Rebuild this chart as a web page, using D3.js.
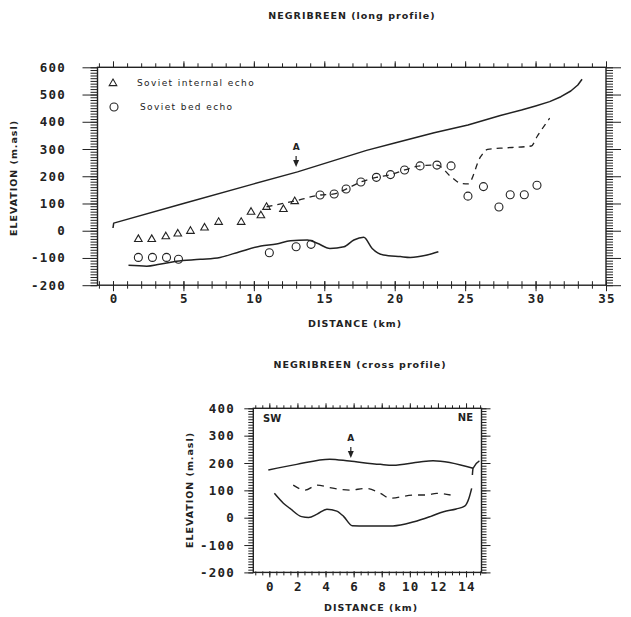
<!DOCTYPE html>
<html>
<head>
<meta charset="utf-8">
<script src="https://cdn.jsdelivr.net/npm/d3@7"></script>
<style>
  body { margin: 0; background: #fff; }
  svg { display: block; }
</style>
</head>
<body>
<div id="chart"></div>
<script>
// ---- long profile data (km, m a.s.l.) ----
var longSurface = [[0,10],[0.05,28],[5,100],[10,172],[13.1,216],[18,295],[20,322],[22.8,360],[25.2,388],
                   [27.5,423],[29,443],[30,458],[31,474],[31.8,492],[32.5,513],[33,535],[33.3,556]];
var longBed = [[1.1,-127],[2.4,-130],[3.3,-123],[4.5,-112],[6.2,-105],[7.6,-98],[9,-77],[10.5,-56],[11.6,-49],
               [12.6,-37],[13.8,-34],[14.5,-46],[15.4,-65],[16.4,-59],[17.1,-34],[17.8,-24],[18.4,-65],[19.2,-89],
               [20.4,-95],[21.1,-98],[22.3,-89],[23.1,-77]];
var longDashed = [[10.9,88],[12.9,109],[14.7,131],[15.7,135],[16.55,153],[17.6,179],[18.7,196],[19.7,206],
                  [20.7,223],[21.8,238],[23,241],[24,198],[24.7,174],[25.2,172],[26.1,272],[26.6,299],
                  [27.5,303],[29.7,311],[30.1,345],[31,413]];
var internalEcho = [[1.8,-30],[2.75,-30],[3.75,-20],[4.6,-10],[5.5,0],[6.5,12],[7.5,33],[9.1,33],[9.8,70],
                    [10.5,57],[10.9,88],[12.1,80],[12.9,109]];
var bedEcho = [[1.8,-98],[2.8,-98],[3.8,-98],[4.65,-105],[11.1,-81],[13,-59],[14.06,-50],[14.7,131],[15.7,135],
               [16.55,153],[17.6,179],[18.7,196],[19.7,206],[20.7,223],[21.8,238],[23,241],[24,238],[25.2,127],
               [26.3,162],[27.4,87],[28.2,132],[29.2,132],[30.1,167]];
var longXTicks = [0,5,10,15,20,25,30,35];
var longYTicks = [-200,-100,0,100,200,300,400,500,600];
var longArrow = [13, 234];   // km, tip elevation

// ---- cross profile data ----
var crossSurface = [[-0.07,174],[1.95,195],[4.3,214],[5.7,207],[7.9,195],[8.8,192],[10.7,204],[11.65,208],[14.5,181]];
var crossSurfaceEnd = [[14.45,156],[14.5,181],[14.95,208]];
var crossBed = [[0.36,89],[1,53],[1.47,34],[2.3,4],[2.8,1],[3.4,13],[4.1,31],[4.8,24],[5.3,4],[5.9,-29],
                [6.9,-30],[8.8,-30],[10.3,-15],[11.45,4],[12.4,22],[13.3,32],[13.9,42],[14.2,70],[14.4,107]];
var crossDashed = [[1.7,119],[2.55,101],[3.4,119],[4.3,110],[5.7,101],[6.9,107],[7.9,89],[8.6,71],[10.3,83],
                   [11.2,83],[11.9,89],[12.9,83]];
var crossXTicks = [0,2,4,6,8,10,12,14];
var crossYTicks = [-200,-100,0,100,200,300,400];
var crossArrow = [5.8, 218];

var ink = "#222";
var svg = d3.select("#chart").append("svg").attr("width", 631).attr("height", 617);

function tickAxis(g, axis, tr, len, crossUp) {
    var a = g.append("g")
        .attr("transform", tr)
        .attr("color", ink)
        .call(axis.tickSize(len).tickFormat(""));
    a.select(".domain").remove();
    a.selectAll("line").attr("stroke-width", 1);
    if (crossUp) a.selectAll("line").attr("y1", -crossUp);
}

function panel(p) {
    var g = svg.append("g");
    var x = d3.scaleLinear().domain(p.xDomain).range(p.xRange);
    var y = d3.scaleLinear().domain(p.yDomain).range(p.yRange);
    var x0 = p.xRange[0], x1 = p.xRange[1], y0 = p.yRange[0], y1 = p.yRange[1];

    var yMinor = d3.range(p.yDomain[0], p.yDomain[1] + 0.1, 10);
    var xMinor = d3.range(Math.ceil(p.xDomain[0] / p.xStep) * p.xStep, p.xDomain[1] + 0.01, p.xStep);

    // left / right ticks, outward
    tickAxis(g, d3.axisLeft(y).tickValues(yMinor), "translate(" + x0 + ",0)", p.yMinorLen);
    tickAxis(g, d3.axisLeft(y).tickValues(p.yTicks), "translate(" + x0 + ",0)", p.yMajorLen);
    tickAxis(g, d3.axisRight(y).tickValues(yMinor), "translate(" + x1 + ",0)", p.yMinorLen);
    tickAxis(g, d3.axisRight(y).tickValues(p.yTicks), "translate(" + x1 + ",0)", p.yMajorLen);
    // top ticks outward, bottom ticks crossing the line
    tickAxis(g, d3.axisTop(x).tickValues(xMinor), "translate(0," + y1 + ")", p.xTopMinor);
    tickAxis(g, d3.axisTop(x).tickValues(p.xTicks), "translate(0," + y1 + ")", p.xTopMajor);
    tickAxis(g, d3.axisBottom(x).tickValues(xMinor), "translate(0," + y0 + ")", p.xBotMinor, p.xBotUp);
    tickAxis(g, d3.axisBottom(x).tickValues(p.xTicks), "translate(0," + y0 + ")", p.xBotMajor, p.xBotUp);

    g.append("rect")
        .attr("x", x0).attr("y", y1)
        .attr("width", x1 - x0).attr("height", y0 - y1)
        .attr("fill", "none").attr("stroke", ink).attr("stroke-width", 1.4);

    // tick labels
    var lf = function(t) {
        return t.attr("font-family", "DejaVu Sans Mono").attr("font-weight", "bold")
            .attr("font-size", "12.5px").attr("letter-spacing", "1.2px").attr("fill", ink);
    };
    lf(g.selectAll(".ylab").data(p.yTicks).enter().append("text"))
        .attr("x", p.yLabX).attr("y", d => y(d) + 4.5)
        .attr("text-anchor", "end")
        .text(d => d);
    lf(g.selectAll(".xlab").data(p.xTicks).enter().append("text"))
        .attr("x", d => x(d) + 1).attr("y", p.xLabY)
        .attr("text-anchor", "middle")
        .text(d => d);

    // titles
    var tf = function(t) {
        return t.attr("font-family", "DejaVu Sans").attr("font-weight", "bold")
            .attr("font-size", "9.5px").attr("letter-spacing", "1px").attr("fill", ink)
            .attr("text-anchor", "middle");
    };
    tf(g.append("text")).attr("x", p.title[1]).attr("y", p.title[2]).text(p.title[0]);
    tf(g.append("text")).attr("x", p.xTitle[0]).attr("y", p.xTitle[1]).text("DISTANCE (km)");
    tf(g.append("text"))
        .attr("transform", "translate(" + p.yTitle[0] + "," + p.yTitle[1] + ") rotate(-90)")
        .text("ELEVATION (m.asl)");

    return { g: g, x: x, y: y };
}

function drawLine(P, data, dash, w, curve) {
    var line = d3.line().x(d => P.x(d[0])).y(d => P.y(d[1])).curve(curve || d3.curveMonotoneX);
    P.g.append("path")
        .datum(data)
        .attr("d", line)
        .attr("fill", "none")
        .attr("stroke", ink)
        .attr("stroke-width", w || 1.5)
        .attr("stroke-linejoin", "round")
        .attr("stroke-dasharray", dash || null);
}

function drawArrow(P, a) {
    var px = P.x(a[0]), py = P.y(a[1]);
    P.g.append("path")
        .attr("d", "M" + (px - 3) + "," + (py - 7) + "L" + (px + 3) + "," + (py - 7) + "L" + px + "," + py + "Z")
        .attr("fill", ink);
    P.g.append("line")
        .attr("x1", px).attr("x2", px).attr("y1", py - 11).attr("y2", py - 6)
        .attr("stroke", ink).attr("stroke-width", 1.2);
    P.g.append("text")
        .attr("x", px).attr("y", py - 17)
        .attr("text-anchor", "middle")
        .attr("font-family", "DejaVu Sans").attr("font-weight", "bold").attr("font-size", "9px")
        .attr("fill", ink)
        .text("A");
}

var tri = "M0,-4L3.8,2.6L-3.8,2.6Z";

// ---------------- long profile ----------------
var longP = panel({
    xDomain: [-1.1, 35], xRange: [97.5, 606],
    yDomain: [-200, 600], yRange: [285.2, 67.3],
    xTicks: longXTicks, yTicks: longYTicks, xStep: 1,
    yMinorLen: 7, yMajorLen: 15,
    xTopMinor: 4, xTopMajor: 6, xBotMinor: 3.5, xBotMajor: 6, xBotUp: 4,
    yLabX: 66, xLabY: 303,
    title: ["NEGRIBREEN (long profile)", 352, 19],
    xTitle: [355, 327], yTitle: [17, 178]
});

drawLine(longP, longSurface, null, 1.5, d3.curveLinear);
drawLine(longP, longBed);
drawLine(longP, longDashed, "6,5", 1.3);

longP.g.selectAll(".tri").data(internalEcho).enter().append("path")
    .attr("transform", d => "translate(" + longP.x(d[0]) + "," + longP.y(d[1]) + ")")
    .attr("d", tri)
    .attr("fill", "none").attr("stroke", ink).attr("stroke-width", 1.1);
longP.g.selectAll(".circ").data(bedEcho).enter().append("circle")
    .attr("cx", d => longP.x(d[0])).attr("cy", d => longP.y(d[1]))
    .attr("r", 4)
    .attr("fill", "none").attr("stroke", ink).attr("stroke-width", 1.1);

drawArrow(longP, longArrow);

// legend
var leg = longP.g.append("g");
leg.append("path").attr("transform", "translate(113,83)").attr("d", tri)
    .attr("fill", "none").attr("stroke", ink).attr("stroke-width", 1.1);
leg.append("circle").attr("cx", 114).attr("cy", 107).attr("r", 4)
    .attr("fill", "none").attr("stroke", ink).attr("stroke-width", 1.1);
leg.append("text").attr("x", 137).attr("y", 86)
    .attr("font-family", "DejaVu Sans").attr("font-size", "9px").attr("letter-spacing", "1.4px").attr("fill", ink)
    .text("Soviet internal echo");
leg.append("text").attr("x", 140).attr("y", 110)
    .attr("font-family", "DejaVu Sans").attr("font-size", "9px").attr("letter-spacing", "1.4px").attr("fill", ink)
    .text("Soviet bed echo");

// ---------------- cross profile ----------------
var crossP = panel({
    xDomain: [-1.14, 15.1], xRange: [253.3, 481.5],
    yDomain: [-200, 400], yRange: [572.4, 408.3],
    xTicks: crossXTicks, yTicks: crossYTicks, xStep: 0.5,
    yMinorLen: 5, yMajorLen: 9,
    xTopMinor: 3, xTopMajor: 5, xBotMinor: 3, xBotMajor: 5, xBotUp: 1,
    yLabX: 235, xLabY: 591,
    title: ["NEGRIBREEN (cross profile)", 360, 368],
    xTitle: [371, 611], yTitle: [193, 490]
});

drawLine(crossP, crossSurface);
drawLine(crossP, crossSurfaceEnd);
drawLine(crossP, crossBed);
drawLine(crossP, crossDashed, "7,6", 1.3);
drawArrow(crossP, crossArrow);

crossP.g.append("text").attr("x", 263).attr("y", 422)
    .attr("font-family", "DejaVu Sans").attr("font-weight", "bold").attr("font-size", "10px").attr("fill", ink)
    .text("SW");
crossP.g.append("text").attr("x", 473).attr("y", 421).attr("text-anchor", "end")
    .attr("font-family", "DejaVu Sans").attr("font-weight", "bold").attr("font-size", "10px").attr("fill", ink)
    .text("NE");
</script>
</body>
</html>
